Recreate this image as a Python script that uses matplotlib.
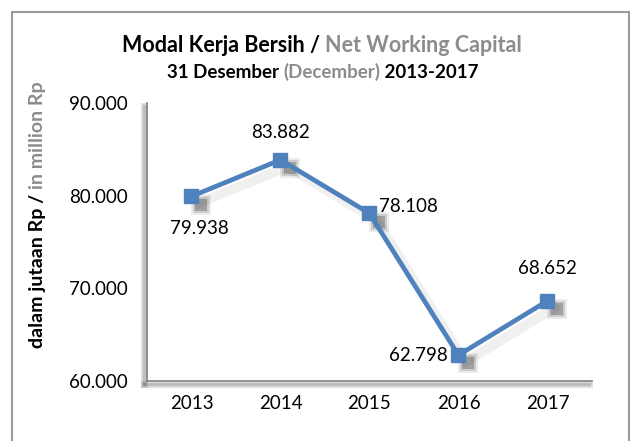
import matplotlib.pyplot as plt
import matplotlib.patheffects as pe
import matplotlib.transforms as mtransforms
from matplotlib.patches import Rectangle
from matplotlib.ticker import FuncFormatter

years = ["2013", "2014", "2015", "2016", "2017"]
values = [79938, 83882, 78108, 62798, 68652]
value_labels = ["79.938", "83.882", "78.108", "62.798", "68.652"]
# label offsets in points (dx, dy) and alignment
label_pos = [(6, -23, "center"), (0, 20, "center"), (7, 5, "left"), (-8, 0, "right"), (0, 23, "center")]

plt.rcParams['font.family'] = ['Lato', 'DejaVu Sans']
blue = "#4F81BD"
gray = "#8C8C8C"

fig = plt.figure(figsize=(6.3, 4.41), dpi=100)
ax = fig.add_axes([0.2333, 0.136, 0.7063, 0.630])

x = list(range(len(years)))
# soft shadows
line_shadow = [pe.SimpleLineShadow(offset=(5, -5), shadow_color="k", alpha=0.06, linewidth=7),
               pe.Normal()]
ax.plot(x, values, color=blue, lw=3.4, zorder=3, path_effects=line_shadow)
shift = mtransforms.offset_copy(ax.transData, fig=fig, x=7, y=-6, units="points")
for ms, a in [(14, 0.10), (11, 0.18), (8, 0.30)]:
    ax.plot(x, values, ls="none", marker="s", ms=ms, mew=0, color="#404040", alpha=a,
            transform=shift, zorder=2)
ax.plot(x, values, ls="none", marker="s", ms=10, color=blue, zorder=4)

for i, (v, lab) in enumerate(zip(values, value_labels)):
    dx, dy, ha = label_pos[i]
    ax.annotate(lab, (i, v), xytext=(dx, dy), textcoords="offset points",
                ha=ha, va="center", fontsize=13.5)

ax.set_xlim(-0.5, 4.5)
ax.set_ylim(60000, 90000)
ax.set_yticks([60000, 70000, 80000, 90000])
ax.yaxis.set_major_formatter(FuncFormatter(lambda v, p: f"{int(v):,}".replace(",", ".")))
ax.set_xticks(x)
ax.set_xticklabels(years)
ax.tick_params(length=0, labelsize=13.5, pad=10)
ax.tick_params(axis="y", pad=14)
for s in ["top", "right"]:
    ax.spines[s].set_visible(False)
for s in ["left", "bottom"]:
    ax.spines[s].set_color("#808080")
    ax.spines[s].set_linewidth(1.2)
    ax.spines[s].set_path_effects([pe.SimpleLineShadow(offset=(-2, -2), shadow_color="k", alpha=0.12, linewidth=5),
                                   pe.SimpleLineShadow(offset=(-2, -2), shadow_color="k", alpha=0.15, linewidth=2.5),
                                   pe.Normal()])

# outer frame
fig.patches.append(Rectangle((12 / 630, -0.05), 617 / 630, 1.05 - 12 / 441, transform=fig.transFigure,
                             fill=False, edgecolor="#9A9A9A", lw=1.5))

fig.canvas.draw()
r = fig.canvas.get_renderer()


def multi_text(parts, x, y, fs, rotation=0):
    # draw colored text segments centred on (x, y) in figure pixels
    widths = []
    for s, c in parts:
        t = fig.text(0, 0, s, fontsize=fs, fontweight="bold", color=c)
        widths.append(t.get_window_extent(r).width)
        t.remove()
    total = sum(widths)
    pos = -total / 2
    for (s, c), w in zip(parts, widths):
        if rotation == 0:
            fig.text((x + pos) / 630, y / 441, s, fontsize=fs, fontweight="bold", color=c,
                     ha="left", va="center")
        else:
            fig.text(x / 630, (y + pos) / 441, s, fontsize=fs, fontweight="bold", color=c,
                     ha="center", va="bottom", rotation=90)
        pos += w


multi_text([("Modal Kerja Bersih / ", "black"), ("Net Working Capital", gray)], 322, 441 - 46, 15.5)
multi_text([("31 Desember ", "black"), ("(December)", gray), (" 2013-2017", "black")], 323, 441 - 72, 13.5)
multi_text([("dalam jutaan Rp / ", "black"), ("in million Rp", gray)], 38, 441 - 215, 14, rotation=90)

fig.savefig("out.png", dpi=100)
